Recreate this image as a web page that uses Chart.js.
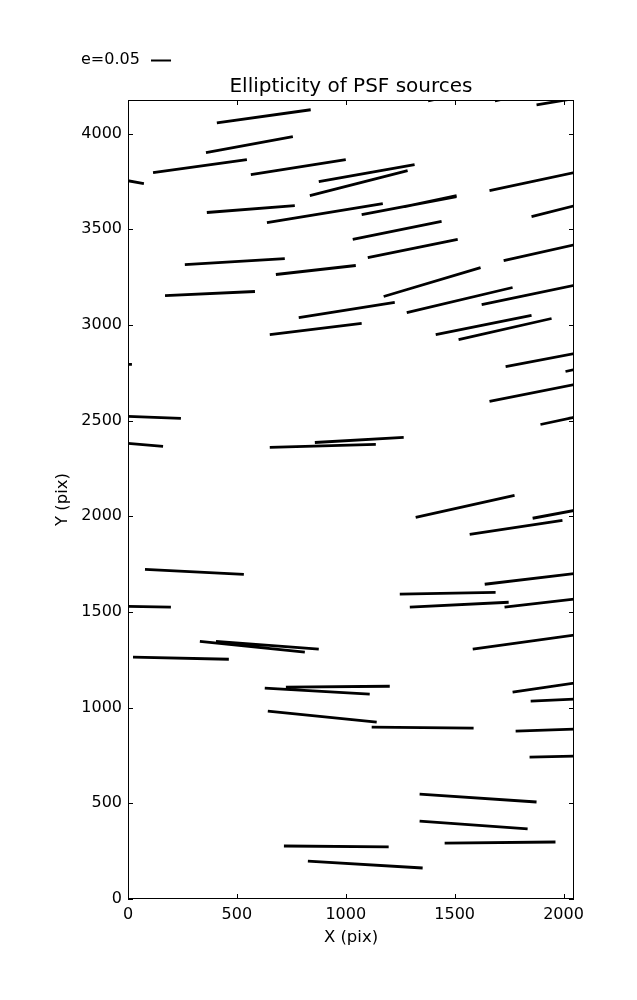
<!DOCTYPE html>
<html>
<head>
<meta charset="utf-8">
<script src="https://cdn.jsdelivr.net/npm/chart.js@4.4.1/dist/chart.umd.min.js"></script>
<style>
  html, body { margin: 0; padding: 0; background: #fff; }
  #wrap { width: 637px; height: 1000px; }
</style>
</head>
<body>
<div id="wrap"><canvas id="psf"></canvas></div>
<script>
// whisker end points (pix), one entry per source
const x1 = [408, 358, 115, 564, -20, 876, 835, 362, 638, 1073, 1271, 1032, 261, 679, 1101, 170, 1174, 784, 1280, 1624,
            1413, 1518, 651, 1660, 1853, 1725, 1734, 2009, 1660, 1894, 2023, 858, 651, -20, -20, -18, 1321, 1569, 1858, 78,
            -10, 1248, 1294, 1729, 1638, 1583, 330, 404, 23, 628, 725, 1766, 1849, 642, 1119, 1780, 1844, 1339, 1339, 1454,
            716, 826, 1876, 1378, 1685];
const y1 = [4057, 3901, 3796, 3786, 3758, 3749, 3676, 3588, 3535, 3577, 3619, 3447, 3316, 3264, 3352, 3154, 3149, 3039, 3065, 3107,
            2950, 2924, 2950, 3702, 3567, 3337, 2783, 2757, 2601, 2480, 2512, 2386, 2360, 2383, 2523, 2794, 1995, 1906, 1990, 1723,
            1530, 1593, 1525, 1525, 1645, 1306, 1347, 1347, 1264, 1102, 1107, 1081, 1034, 982, 898, 877, 742, 548, 407, 292,
            277, 198, 4151, 4172, 4172];
const x2 = [839, 757, 546, 1000, 73, 1316, 1284, 766, 1170, 1509, 1509, 1440, 720, 1046, 1514, 583, 1619, 1225, 1766, 2060,
            1853, 1945, 1073, 2060, 2060, 2060, 2060, 2073, 2060, 2048, 2073, 1266, 1138, 161, 243, 18, 1775, 1995, 2060, 532,
            197, 1688, 1748, 2060, 2060, 2060, 812, 876, 463, 1110, 1202, 2060, 2060, 1142, 1587, 2060, 2060, 1876, 1835, 1963,
            1197, 1353, 2060, 1480, 1800];
const y2 = [4125, 3984, 3864, 3864, 3739, 3838, 3807, 3624, 3635, 3671, 3676, 3541, 3347, 3311, 3447, 3175, 3300, 3118, 3196, 3210,
            3050, 3034, 3008, 3799, 3626, 3422, 2853, 2773, 2691, 2517, 2522, 2413, 2376, 2366, 2512, 2794, 2110, 1979, 2033, 1697,
            1525, 1603, 1551, 1569, 1702, 1381, 1290, 1306, 1253, 1071, 1112, 1130, 1045, 924, 893, 888, 747, 507, 366, 298,
            272, 162, 4185, 4196, 4200];

const xTicks = [0, 500, 1000, 1500, 2000];
const yTicks = [0, 500, 1000, 1500, 2000, 2500, 3000, 3500, 4000];
const xMax = 2048, yMax = 4176;
const keyLabel = 'e=0.05';
const keyLen = 92; // whisker length for e=0.05, in pix units

// one line dataset, gaps between whiskers
var pts = [];
for (var i = 0; i < x1.length; i++) {
    pts.push({x: x1[i], y: y1[i]});
    pts.push({x: x2[i], y: y2[i]});
    pts.push({x: x2[i], y: null});
}

const FONT = "'DejaVu Sans', sans-serif";

// matplotlib style: box round the axes, ticks pointing inwards, quiver key
const frameTicks = {
    id: 'frameTicks',
    afterDraw(chart) {
        const ctx = chart.ctx;
        const a = chart.chartArea;
        const xs = chart.scales.x, ys = chart.scales.y;
        ctx.save();
        ctx.strokeStyle = '#000';
        ctx.lineWidth = 1;
        ctx.strokeRect(a.left + 0.5, a.top + 0.5, a.right - a.left - 1, a.bottom - a.top - 1);
        ctx.beginPath();
        xTicks.forEach(v => {
            const px = Math.round(xs.getPixelForValue(v)) + 0.5;
            ctx.moveTo(px, a.bottom); ctx.lineTo(px, a.bottom - 5);
            ctx.moveTo(px, a.top); ctx.lineTo(px, a.top + 5);
        });
        yTicks.forEach(v => {
            const py = Math.round(ys.getPixelForValue(v)) + 0.5;
            ctx.moveTo(a.left, py); ctx.lineTo(a.left + 5, py);
            ctx.moveTo(a.right, py); ctx.lineTo(a.right - 5, py);
        });
        ctx.stroke();

        // key
        ctx.font = '16px ' + FONT;
        ctx.fillStyle = '#000';
        ctx.textBaseline = 'middle';
        ctx.textAlign = 'left';
        ctx.fillText(keyLabel, 81, 60);
        const len = xs.getPixelForValue(keyLen) - xs.getPixelForValue(0);
        ctx.lineWidth = 2;
        ctx.beginPath();
        ctx.moveTo(151, 60.5); ctx.lineTo(151 + len, 60.5);
        ctx.stroke();
        ctx.restore();
    }
};

new Chart(document.getElementById('psf'), {
    type: 'scatter',
    data: {
        datasets: [{
            label: keyLabel,
            data: pts,
            showLine: true,
            spanGaps: false,
            borderColor: '#000',
            backgroundColor: '#000',
            borderWidth: 2.8,
            borderCapStyle: 'butt',
            pointRadius: 0,
            pointHoverRadius: 0,
            clip: 0
        }]
    },
    options: {
        responsive: true,
        maintainAspectRatio: false,
        animation: false,
        layout: { padding: { left: 0, right: 63, top: 0, bottom: 0 } },
        plugins: {
            legend: { display: false },
            tooltip: { enabled: false },
            title: {
                display: true,
                fullSize: false,
                text: 'Ellipticity of PSF sources',
                color: '#000',
                font: { family: FONT, size: 20, weight: 'normal', lineHeight: 1.1 },
                padding: { top: 76, bottom: 2 }
            }
        },
        scales: {
            x: {
                type: 'linear',
                min: 0,
                max: xMax,
                afterBuildTicks: s => { s.ticks = xTicks.map(v => ({value: v})); },
                afterFit: s => { s.height = 101; },
                grid: { display: false, drawTicks: false },
                border: { display: false },
                ticks: { color: '#000', padding: 6, maxRotation: 0, font: { family: FONT, size: 16 },
                         callback: v => String(v) },
                title: {
                    display: true, text: 'X (pix)', color: '#000',
                    font: { family: FONT, size: 16.5 },
                    padding: { top: 0, bottom: 52 }
                }
            },
            y: {
                type: 'linear',
                min: 0,
                max: yMax,
                afterBuildTicks: s => { s.ticks = yTicks.map(v => ({value: v})); },
                afterFit: s => { s.width = 128; },
                grid: { display: false, drawTicks: false },
                border: { display: false },
                ticks: { color: '#000', padding: 6, font: { family: FONT, size: 16 },
                         callback: v => String(v) },
                title: {
                    display: true, text: 'Y (pix)', color: '#000',
                    font: { family: FONT, size: 16.5 },
                    padding: { top: 53, bottom: 0 }
                }
            }
        }
    },
    plugins: [frameTicks]
});
</script>
</body>
</html>
